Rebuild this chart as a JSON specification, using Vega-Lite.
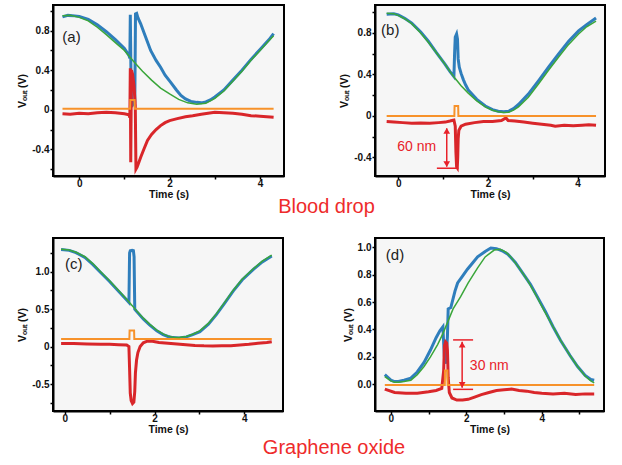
{
  "$schema": "https://vega.github.io/schema/vega-lite/v6.json",
  "background": "white",
  "padding": {"left": 16, "top": 4, "right": 5, "bottom": 5},
  "bounds": "flush",
  "columns": 2,
  "spacing": {"column": 91, "row": 62},
  "datasets": {
    "a": [
      {"t": -0.37, "v": 0.95, "s": "g"}, {"t": -0.2, "v": 0.955, "s": "g"}, {"t": 0, "v": 0.935, "s": "g"}, {"t": 0.2, "v": 0.9, "s": "g"}, {"t": 0.4, "v": 0.835, "s": "g"}, {"t": 0.6, "v": 0.76, "s": "g"}, {"t": 0.8, "v": 0.68, "s": "g"}, {"t": 1.0, "v": 0.6, "s": "g"}, {"t": 1.2, "v": 0.49, "s": "g"}, {"t": 1.4, "v": 0.39, "s": "g"}, {"t": 1.6, "v": 0.3, "s": "g"}, {"t": 1.8, "v": 0.22, "s": "g"}, {"t": 2.0, "v": 0.16, "s": "g"}, {"t": 2.2, "v": 0.105, "s": "g"}, {"t": 2.4, "v": 0.07, "s": "g"}, {"t": 2.6, "v": 0.055, "s": "g"}, {"t": 2.8, "v": 0.065, "s": "g"}, {"t": 3.0, "v": 0.115, "s": "g"}, {"t": 3.2, "v": 0.19, "s": "g"}, {"t": 3.4, "v": 0.29, "s": "g"}, {"t": 3.6, "v": 0.39, "s": "g"}, {"t": 3.8, "v": 0.5, "s": "g"}, {"t": 4.0, "v": 0.6, "s": "g"}, {"t": 4.2, "v": 0.7, "s": "g"}, {"t": 4.3, "v": 0.75, "s": "g"},
      {"t": -0.37, "v": 0.94, "s": "b"}, {"t": -0.25, "v": 0.955, "s": "b"}, {"t": -0.1, "v": 0.95, "s": "b"}, {"t": 0, "v": 0.945, "s": "b"}, {"t": 0.2, "v": 0.915, "s": "b"}, {"t": 0.4, "v": 0.86, "s": "b"}, {"t": 0.6, "v": 0.79, "s": "b"}, {"t": 0.8, "v": 0.71, "s": "b"}, {"t": 1.0, "v": 0.62, "s": "b"}, {"t": 1.1, "v": 0.55, "s": "b"}, {"t": 1.12, "v": 0.52, "s": "b"}, {"t": 1.13, "v": 0.96, "s": "b"}, {"t": 1.145, "v": 0.35, "s": "b"}, {"t": 1.16, "v": 0.03, "s": "b"}, {"t": 1.19, "v": 0.06, "s": "b"}, {"t": 1.23, "v": 0.08, "s": "b"}, {"t": 1.245, "v": 0.97, "s": "b"}, {"t": 1.27, "v": 0.975, "s": "b"}, {"t": 1.3, "v": 0.93, "s": "b"}, {"t": 1.36, "v": 0.87, "s": "b"}, {"t": 1.45, "v": 0.76, "s": "b"}, {"t": 1.58, "v": 0.6, "s": "b"}, {"t": 1.7, "v": 0.5, "s": "b"}, {"t": 1.8, "v": 0.43, "s": "b"}, {"t": 1.9, "v": 0.35, "s": "b"}, {"t": 2.02, "v": 0.28, "s": "b"}, {"t": 2.15, "v": 0.2, "s": "b"}, {"t": 2.25, "v": 0.145, "s": "b"}, {"t": 2.35, "v": 0.11, "s": "b"}, {"t": 2.47, "v": 0.085, "s": "b"}, {"t": 2.6, "v": 0.075, "s": "b"}, {"t": 2.7, "v": 0.07, "s": "b"}, {"t": 2.8, "v": 0.08, "s": "b"}, {"t": 2.9, "v": 0.1, "s": "b"}, {"t": 3.0, "v": 0.13, "s": "b"}, {"t": 3.2, "v": 0.2, "s": "b"}, {"t": 3.4, "v": 0.3, "s": "b"}, {"t": 3.6, "v": 0.4, "s": "b"}, {"t": 3.8, "v": 0.51, "s": "b"}, {"t": 4.0, "v": 0.61, "s": "b"}, {"t": 4.2, "v": 0.71, "s": "b"}, {"t": 4.3, "v": 0.77, "s": "b"},
      {"t": -0.37, "v": -0.04, "s": "r"}, {"t": -0.2, "v": -0.045, "s": "r"}, {"t": 0, "v": -0.035, "s": "r"}, {"t": 0.2, "v": -0.04, "s": "r"}, {"t": 0.4, "v": -0.03, "s": "r"}, {"t": 0.6, "v": -0.025, "s": "r"}, {"t": 0.8, "v": -0.03, "s": "r"}, {"t": 1.0, "v": -0.04, "s": "r"}, {"t": 1.1, "v": -0.05, "s": "r"}, {"t": 1.12, "v": -0.08, "s": "r"}, {"t": 1.13, "v": 0.42, "s": "r"}, {"t": 1.14, "v": -0.53, "s": "r"}, {"t": 1.155, "v": 0.4, "s": "r"}, {"t": 1.18, "v": 0.36, "s": "r"}, {"t": 1.21, "v": 0.25, "s": "r"}, {"t": 1.24, "v": 0.05, "s": "r"}, {"t": 1.255, "v": -0.6, "s": "r"}, {"t": 1.28, "v": -0.58, "s": "r"}, {"t": 1.32, "v": -0.53, "s": "r"}, {"t": 1.36, "v": -0.48, "s": "r"}, {"t": 1.43, "v": -0.4, "s": "r"}, {"t": 1.51, "v": -0.31, "s": "r"}, {"t": 1.6, "v": -0.25, "s": "r"}, {"t": 1.7, "v": -0.2, "s": "r"}, {"t": 1.8, "v": -0.16, "s": "r"}, {"t": 1.9, "v": -0.13, "s": "r"}, {"t": 2.0, "v": -0.11, "s": "r"}, {"t": 2.17, "v": -0.09, "s": "r"}, {"t": 2.35, "v": -0.07, "s": "r"}, {"t": 2.51, "v": -0.06, "s": "r"}, {"t": 2.7, "v": -0.045, "s": "r"}, {"t": 2.85, "v": -0.035, "s": "r"}, {"t": 3.0, "v": -0.025, "s": "r"}, {"t": 3.2, "v": -0.03, "s": "r"}, {"t": 3.4, "v": -0.035, "s": "r"}, {"t": 3.6, "v": -0.045, "s": "r"}, {"t": 3.8, "v": -0.06, "s": "r"}, {"t": 4.0, "v": -0.065, "s": "r"}, {"t": 4.15, "v": -0.07, "s": "r"}, {"t": 4.3, "v": -0.075, "s": "r"},
      {"t": -0.37, "v": 0.01, "s": "o"}, {"t": 1.125, "v": 0.01, "s": "o"}, {"t": 1.13, "v": 0.1, "s": "o"}, {"t": 1.225, "v": 0.1, "s": "o"}, {"t": 1.23, "v": 0.01, "s": "o"}, {"t": 4.3, "v": 0.01, "s": "o"}
    ],
    "b": [
      {"t": -0.26, "v": 0.99, "s": "g"}, {"t": -0.1, "v": 0.985, "s": "g"}, {"t": 0, "v": 0.97, "s": "g"}, {"t": 0.15, "v": 0.935, "s": "g"}, {"t": 0.3, "v": 0.89, "s": "g"}, {"t": 0.5, "v": 0.8, "s": "g"}, {"t": 0.67, "v": 0.71, "s": "g"}, {"t": 0.85, "v": 0.61, "s": "g"}, {"t": 1.04, "v": 0.5, "s": "g"}, {"t": 1.15, "v": 0.43, "s": "g"}, {"t": 1.27, "v": 0.36, "s": "g"}, {"t": 1.4, "v": 0.29, "s": "g"}, {"t": 1.56, "v": 0.22, "s": "g"}, {"t": 1.75, "v": 0.145, "s": "g"}, {"t": 1.94, "v": 0.087, "s": "g"}, {"t": 2.1, "v": 0.055, "s": "g"}, {"t": 2.23, "v": 0.04, "s": "g"}, {"t": 2.35, "v": 0.033, "s": "g"}, {"t": 2.46, "v": 0.035, "s": "g"}, {"t": 2.57, "v": 0.055, "s": "g"}, {"t": 2.68, "v": 0.087, "s": "g"}, {"t": 2.9, "v": 0.18, "s": "g"}, {"t": 3.13, "v": 0.31, "s": "g"}, {"t": 3.35, "v": 0.44, "s": "g"}, {"t": 3.58, "v": 0.57, "s": "g"}, {"t": 3.8, "v": 0.69, "s": "g"}, {"t": 4.02, "v": 0.79, "s": "g"}, {"t": 4.2, "v": 0.86, "s": "g"}, {"t": 4.41, "v": 0.915, "s": "g"},
      {"t": -0.26, "v": 0.98, "s": "b"}, {"t": -0.1, "v": 0.985, "s": "b"}, {"t": 0, "v": 0.975, "s": "b"}, {"t": 0.15, "v": 0.94, "s": "b"}, {"t": 0.3, "v": 0.895, "s": "b"}, {"t": 0.5, "v": 0.81, "s": "b"}, {"t": 0.67, "v": 0.72, "s": "b"}, {"t": 0.85, "v": 0.61, "s": "b"}, {"t": 1.04, "v": 0.5, "s": "b"}, {"t": 1.15, "v": 0.43, "s": "b"}, {"t": 1.24, "v": 0.38, "s": "b"}, {"t": 1.255, "v": 0.6, "s": "b"}, {"t": 1.27, "v": 0.76, "s": "b"}, {"t": 1.3, "v": 0.79, "s": "b"}, {"t": 1.32, "v": 0.74, "s": "b"}, {"t": 1.335, "v": 0.55, "s": "b"}, {"t": 1.36, "v": 0.47, "s": "b"}, {"t": 1.4, "v": 0.41, "s": "b"}, {"t": 1.45, "v": 0.35, "s": "b"}, {"t": 1.5, "v": 0.3, "s": "b"}, {"t": 1.56, "v": 0.25, "s": "b"}, {"t": 1.75, "v": 0.16, "s": "b"}, {"t": 1.94, "v": 0.095, "s": "b"}, {"t": 2.1, "v": 0.06, "s": "b"}, {"t": 2.23, "v": 0.045, "s": "b"}, {"t": 2.35, "v": 0.04, "s": "b"}, {"t": 2.46, "v": 0.045, "s": "b"}, {"t": 2.57, "v": 0.07, "s": "b"}, {"t": 2.68, "v": 0.11, "s": "b"}, {"t": 2.9, "v": 0.21, "s": "b"}, {"t": 3.13, "v": 0.34, "s": "b"}, {"t": 3.35, "v": 0.47, "s": "b"}, {"t": 3.58, "v": 0.6, "s": "b"}, {"t": 3.8, "v": 0.72, "s": "b"}, {"t": 4.02, "v": 0.82, "s": "b"}, {"t": 4.2, "v": 0.88, "s": "b"}, {"t": 4.41, "v": 0.945, "s": "b"},
      {"t": -0.26, "v": -0.055, "s": "r"}, {"t": -0.1, "v": -0.06, "s": "r"}, {"t": 0.1, "v": -0.065, "s": "r"}, {"t": 0.3, "v": -0.07, "s": "r"}, {"t": 0.5, "v": -0.068, "s": "r"}, {"t": 0.7, "v": -0.07, "s": "r"}, {"t": 0.9, "v": -0.065, "s": "r"}, {"t": 1.05, "v": -0.06, "s": "r"}, {"t": 1.15, "v": -0.05, "s": "r"}, {"t": 1.24, "v": -0.04, "s": "r"}, {"t": 1.27, "v": -0.1, "s": "r"}, {"t": 1.285, "v": -0.35, "s": "r"}, {"t": 1.3, "v": -0.49, "s": "r"}, {"t": 1.315, "v": -0.5, "s": "r"}, {"t": 1.325, "v": -0.4, "s": "r"}, {"t": 1.335, "v": -0.22, "s": "r"}, {"t": 1.35, "v": -0.14, "s": "r"}, {"t": 1.4, "v": -0.1, "s": "r"}, {"t": 1.5, "v": -0.08, "s": "r"}, {"t": 1.7, "v": -0.065, "s": "r"}, {"t": 1.9, "v": -0.055, "s": "r"}, {"t": 2.1, "v": -0.055, "s": "r"}, {"t": 2.3, "v": -0.045, "s": "r"}, {"t": 2.4, "v": -0.02, "s": "r"}, {"t": 2.45, "v": -0.045, "s": "r"}, {"t": 2.6, "v": -0.05, "s": "r"}, {"t": 2.8, "v": -0.06, "s": "r"}, {"t": 3.0, "v": -0.07, "s": "r"}, {"t": 3.2, "v": -0.08, "s": "r"}, {"t": 3.4, "v": -0.09, "s": "r"}, {"t": 3.5, "v": -0.1, "s": "r"}, {"t": 3.7, "v": -0.09, "s": "r"}, {"t": 3.9, "v": -0.095, "s": "r"}, {"t": 4.1, "v": -0.09, "s": "r"}, {"t": 4.25, "v": -0.085, "s": "r"}, {"t": 4.41, "v": -0.09, "s": "r"},
      {"t": -0.26, "v": 0, "s": "o"}, {"t": 1.25, "v": 0, "s": "o"}, {"t": 1.255, "v": 0.095, "s": "o"}, {"t": 1.335, "v": 0.095, "s": "o"}, {"t": 1.34, "v": 0, "s": "o"}, {"t": 4.41, "v": 0, "s": "o"}
    ],
    "c": [
      {"t": -0.08, "v": 1.3, "s": "g"}, {"t": 0.1, "v": 1.29, "s": "g"}, {"t": 0.25, "v": 1.26, "s": "g"}, {"t": 0.45, "v": 1.2, "s": "g"}, {"t": 0.63, "v": 1.105, "s": "g"}, {"t": 0.8, "v": 1.0, "s": "g"}, {"t": 1.0, "v": 0.88, "s": "g"}, {"t": 1.2, "v": 0.75, "s": "g"}, {"t": 1.37, "v": 0.64, "s": "g"}, {"t": 1.5, "v": 0.55, "s": "g"}, {"t": 1.6, "v": 0.48, "s": "g"}, {"t": 1.75, "v": 0.38, "s": "g"}, {"t": 1.89, "v": 0.3, "s": "g"}, {"t": 2.05, "v": 0.22, "s": "g"}, {"t": 2.19, "v": 0.17, "s": "g"}, {"t": 2.3, "v": 0.14, "s": "g"}, {"t": 2.41, "v": 0.125, "s": "g"}, {"t": 2.55, "v": 0.12, "s": "g"}, {"t": 2.71, "v": 0.134, "s": "g"}, {"t": 2.85, "v": 0.165, "s": "g"}, {"t": 3.01, "v": 0.21, "s": "g"}, {"t": 3.2, "v": 0.31, "s": "g"}, {"t": 3.38, "v": 0.44, "s": "g"}, {"t": 3.55, "v": 0.58, "s": "g"}, {"t": 3.75, "v": 0.75, "s": "g"}, {"t": 3.95, "v": 0.9, "s": "g"}, {"t": 4.2, "v": 1.04, "s": "g"}, {"t": 4.4, "v": 1.14, "s": "g"}, {"t": 4.61, "v": 1.22, "s": "g"},
      {"t": -0.08, "v": 1.295, "s": "b"}, {"t": 0.1, "v": 1.285, "s": "b"}, {"t": 0.25, "v": 1.255, "s": "b"}, {"t": 0.45, "v": 1.19, "s": "b"}, {"t": 0.63, "v": 1.095, "s": "b"}, {"t": 0.8, "v": 0.99, "s": "b"}, {"t": 1.0, "v": 0.87, "s": "b"}, {"t": 1.2, "v": 0.74, "s": "b"}, {"t": 1.37, "v": 0.63, "s": "b"}, {"t": 1.43, "v": 0.59, "s": "b"}, {"t": 1.445, "v": 1.25, "s": "b"}, {"t": 1.46, "v": 1.28, "s": "b"}, {"t": 1.5, "v": 1.285, "s": "b"}, {"t": 1.53, "v": 1.28, "s": "b"}, {"t": 1.545, "v": 1.2, "s": "b"}, {"t": 1.56, "v": 0.5, "s": "b"}, {"t": 1.6, "v": 0.47, "s": "b"}, {"t": 1.75, "v": 0.37, "s": "b"}, {"t": 1.89, "v": 0.29, "s": "b"}, {"t": 2.05, "v": 0.21, "s": "b"}, {"t": 2.19, "v": 0.16, "s": "b"}, {"t": 2.3, "v": 0.135, "s": "b"}, {"t": 2.41, "v": 0.12, "s": "b"}, {"t": 2.55, "v": 0.115, "s": "b"}, {"t": 2.71, "v": 0.13, "s": "b"}, {"t": 2.85, "v": 0.16, "s": "b"}, {"t": 3.01, "v": 0.2, "s": "b"}, {"t": 3.2, "v": 0.3, "s": "b"}, {"t": 3.38, "v": 0.43, "s": "b"}, {"t": 3.55, "v": 0.57, "s": "b"}, {"t": 3.75, "v": 0.74, "s": "b"}, {"t": 3.95, "v": 0.89, "s": "b"}, {"t": 4.2, "v": 1.03, "s": "b"}, {"t": 4.4, "v": 1.13, "s": "b"}, {"t": 4.61, "v": 1.21, "s": "b"},
      {"t": -0.08, "v": 0.04, "s": "r"}, {"t": 0.2, "v": 0.04, "s": "r"}, {"t": 0.5, "v": 0.035, "s": "r"}, {"t": 0.8, "v": 0.03, "s": "r"}, {"t": 1.0, "v": 0.03, "s": "r"}, {"t": 1.2, "v": 0.025, "s": "r"}, {"t": 1.38, "v": 0.02, "s": "r"}, {"t": 1.43, "v": 0.0, "s": "r"}, {"t": 1.445, "v": -0.3, "s": "r"}, {"t": 1.46, "v": -0.62, "s": "r"}, {"t": 1.48, "v": -0.72, "s": "r"}, {"t": 1.51, "v": -0.76, "s": "r"}, {"t": 1.54, "v": -0.74, "s": "r"}, {"t": 1.56, "v": -0.6, "s": "r"}, {"t": 1.575, "v": -0.35, "s": "r"}, {"t": 1.6, "v": -0.18, "s": "r"}, {"t": 1.63, "v": -0.08, "s": "r"}, {"t": 1.68, "v": 0.0, "s": "r"}, {"t": 1.75, "v": 0.05, "s": "r"}, {"t": 1.85, "v": 0.075, "s": "r"}, {"t": 1.95, "v": 0.07, "s": "r"}, {"t": 2.1, "v": 0.055, "s": "r"}, {"t": 2.3, "v": 0.045, "s": "r"}, {"t": 2.5, "v": 0.035, "s": "r"}, {"t": 2.7, "v": 0.025, "s": "r"}, {"t": 2.9, "v": 0.015, "s": "r"}, {"t": 3.1, "v": 0.01, "s": "r"}, {"t": 3.3, "v": 0.008, "s": "r"}, {"t": 3.5, "v": 0.01, "s": "r"}, {"t": 3.7, "v": 0.012, "s": "r"}, {"t": 3.9, "v": 0.02, "s": "r"}, {"t": 4.1, "v": 0.03, "s": "r"}, {"t": 4.3, "v": 0.045, "s": "r"}, {"t": 4.5, "v": 0.055, "s": "r"}, {"t": 4.61, "v": 0.065, "s": "r"},
      {"t": -0.08, "v": 0.1, "s": "o"}, {"t": 1.44, "v": 0.1, "s": "o"}, {"t": 1.445, "v": 0.215, "s": "o"}, {"t": 1.545, "v": 0.215, "s": "o"}, {"t": 1.55, "v": 0.1, "s": "o"}, {"t": 4.61, "v": 0.1, "s": "o"}
    ],
    "d": [
      {"t": -0.16, "v": 0.056, "s": "g"}, {"t": 0, "v": 0.025, "s": "g"}, {"t": 0.1, "v": 0.015, "s": "g"}, {"t": 0.2, "v": 0.015, "s": "g"}, {"t": 0.35, "v": 0.02, "s": "g"}, {"t": 0.53, "v": 0.03, "s": "g"}, {"t": 0.7, "v": 0.07, "s": "g"}, {"t": 0.88, "v": 0.13, "s": "g"}, {"t": 1.05, "v": 0.2, "s": "g"}, {"t": 1.24, "v": 0.29, "s": "g"}, {"t": 1.38, "v": 0.37, "s": "g"}, {"t": 1.5, "v": 0.45, "s": "g"}, {"t": 1.65, "v": 0.55, "s": "g"}, {"t": 1.85, "v": 0.64, "s": "g"}, {"t": 2.05, "v": 0.74, "s": "g"}, {"t": 2.3, "v": 0.85, "s": "g"}, {"t": 2.5, "v": 0.93, "s": "g"}, {"t": 2.74, "v": 0.98, "s": "g"}, {"t": 2.9, "v": 0.985, "s": "g"}, {"t": 3.05, "v": 0.965, "s": "g"}, {"t": 3.18, "v": 0.93, "s": "g"}, {"t": 3.4, "v": 0.85, "s": "g"}, {"t": 3.62, "v": 0.76, "s": "g"}, {"t": 3.85, "v": 0.65, "s": "g"}, {"t": 4.06, "v": 0.54, "s": "g"}, {"t": 4.3, "v": 0.42, "s": "g"}, {"t": 4.5, "v": 0.32, "s": "g"}, {"t": 4.75, "v": 0.21, "s": "g"}, {"t": 4.95, "v": 0.13, "s": "g"}, {"t": 5.15, "v": 0.06, "s": "g"}, {"t": 5.3, "v": 0.025, "s": "g"}, {"t": 5.39, "v": 0.01, "s": "g"},
      {"t": -0.16, "v": 0.07, "s": "b"}, {"t": 0, "v": 0.03, "s": "b"}, {"t": 0.1, "v": 0.02, "s": "b"}, {"t": 0.2, "v": 0.02, "s": "b"}, {"t": 0.35, "v": 0.03, "s": "b"}, {"t": 0.53, "v": 0.045, "s": "b"}, {"t": 0.7, "v": 0.09, "s": "b"}, {"t": 0.88, "v": 0.16, "s": "b"}, {"t": 1.05, "v": 0.25, "s": "b"}, {"t": 1.2, "v": 0.34, "s": "b"}, {"t": 1.3, "v": 0.39, "s": "b"}, {"t": 1.38, "v": 0.42, "s": "b"}, {"t": 1.4, "v": 0.3, "s": "b"}, {"t": 1.42, "v": 0.2, "s": "b"}, {"t": 1.45, "v": 0.15, "s": "b"}, {"t": 1.48, "v": 0.25, "s": "b"}, {"t": 1.5, "v": 0.35, "s": "b"}, {"t": 1.52, "v": 0.55, "s": "b"}, {"t": 1.59, "v": 0.56, "s": "b"}, {"t": 1.7, "v": 0.68, "s": "b"}, {"t": 1.77, "v": 0.74, "s": "b"}, {"t": 1.9, "v": 0.79, "s": "b"}, {"t": 2.03, "v": 0.84, "s": "b"}, {"t": 2.15, "v": 0.88, "s": "b"}, {"t": 2.3, "v": 0.93, "s": "b"}, {"t": 2.5, "v": 0.97, "s": "b"}, {"t": 2.65, "v": 0.995, "s": "b"}, {"t": 2.8, "v": 0.99, "s": "b"}, {"t": 2.95, "v": 0.975, "s": "b"}, {"t": 3.1, "v": 0.95, "s": "b"}, {"t": 3.3, "v": 0.89, "s": "b"}, {"t": 3.5, "v": 0.81, "s": "b"}, {"t": 3.7, "v": 0.73, "s": "b"}, {"t": 3.9, "v": 0.63, "s": "b"}, {"t": 4.1, "v": 0.53, "s": "b"}, {"t": 4.3, "v": 0.42, "s": "b"}, {"t": 4.5, "v": 0.32, "s": "b"}, {"t": 4.75, "v": 0.21, "s": "b"}, {"t": 4.95, "v": 0.13, "s": "b"}, {"t": 5.15, "v": 0.065, "s": "b"}, {"t": 5.3, "v": 0.035, "s": "b"}, {"t": 5.39, "v": 0.03, "s": "b"},
      {"t": -0.16, "v": -0.035, "s": "r"}, {"t": 0.1, "v": -0.06, "s": "r"}, {"t": 0.4, "v": -0.065, "s": "r"}, {"t": 0.7, "v": -0.065, "s": "r"}, {"t": 1.0, "v": -0.055, "s": "r"}, {"t": 1.2, "v": -0.045, "s": "r"}, {"t": 1.35, "v": -0.03, "s": "r"}, {"t": 1.4, "v": 0.1, "s": "r"}, {"t": 1.42, "v": 0.28, "s": "r"}, {"t": 1.45, "v": 0.31, "s": "r"}, {"t": 1.48, "v": 0.3, "s": "r"}, {"t": 1.5, "v": 0.25, "s": "r"}, {"t": 1.52, "v": 0.05, "s": "r"}, {"t": 1.55, "v": -0.06, "s": "r"}, {"t": 1.62, "v": -0.1, "s": "r"}, {"t": 1.75, "v": -0.115, "s": "r"}, {"t": 1.9, "v": -0.115, "s": "r"}, {"t": 2.05, "v": -0.11, "s": "r"}, {"t": 2.2, "v": -0.095, "s": "r"}, {"t": 2.4, "v": -0.075, "s": "r"}, {"t": 2.6, "v": -0.06, "s": "r"}, {"t": 2.8, "v": -0.045, "s": "r"}, {"t": 3.0, "v": -0.04, "s": "r"}, {"t": 3.2, "v": -0.035, "s": "r"}, {"t": 3.4, "v": -0.045, "s": "r"}, {"t": 3.6, "v": -0.05, "s": "r"}, {"t": 3.8, "v": -0.06, "s": "r"}, {"t": 4.0, "v": -0.065, "s": "r"}, {"t": 4.3, "v": -0.07, "s": "r"}, {"t": 4.6, "v": -0.065, "s": "r"}, {"t": 4.9, "v": -0.075, "s": "r"}, {"t": 5.15, "v": -0.07, "s": "r"}, {"t": 5.39, "v": -0.07, "s": "r"},
      {"t": -0.16, "v": -0.005, "s": "o"}, {"t": 1.43, "v": -0.005, "s": "o"}, {"t": 1.435, "v": 0.1, "s": "o"}, {"t": 1.5, "v": 0.1, "s": "o"}, {"t": 1.505, "v": -0.005, "s": "o"}, {"t": 5.39, "v": -0.005, "s": "o"}
    ]
  },
  "concat": [
    {
      "width": 231, "height": 171,
      "title": {"text": "Blood drop", "orient": "bottom", "anchor": "middle", "frame": "group", "dx": 158, "offset": -3, "fontSize": 20, "fontWeight": "normal", "color": "#ee2b2b", "font": "Liberation Sans"},
      "data": {"name": "a"},
      "encoding": {
        "x": {"field": "t", "type": "quantitative", "scale": {"domain": [-0.58, 4.53], "nice": false, "zero": false}, "axis": {"title": "Time (s)", "values": [0, 1, 2, 3, 4], "labelExpr": "datum.value % 2 == 0 ? format(datum.value, 'd') : ''"}},
        "y": {"field": "v", "type": "quantitative", "scale": {"domain": [-0.67, 1.06], "nice": false, "zero": false}, "axis": {"title": "Vₒᵤₜ (V)", "values": [-0.6, -0.4, -0.2, 0, 0.2, 0.4, 0.6, 0.8, 1.0], "labelExpr": "datum.value == 0.8 ? '0.8' : datum.value == 0.4 ? '0.4' : datum.value == 0 ? '0' : datum.value == -0.4 ? '-0.4' : ''"}}
      },
      "layer": [
        {"transform": [{"filter": "datum.s === 'b'"}], "mark": {"type": "line", "color": "#2f7ebc", "strokeWidth": 3}},
        {"transform": [{"filter": "datum.s === 'r'"}], "mark": {"type": "line", "color": "#d9262a", "strokeWidth": 3}},
        {"transform": [{"filter": "datum.s === 'o'"}], "mark": {"type": "line", "color": "#f7922a", "strokeWidth": 2}},
        {"transform": [{"filter": "datum.s === 'g'"}], "mark": {"type": "line", "color": "#3aa63a", "strokeWidth": 1.5}},
        {"data": {"values": [{"t": -0.17, "v": 0.735, "txt": "(a)"}]}, "mark": {"type": "text", "fontSize": 15, "font": "Liberation Sans", "color": "#222"}, "encoding": {"text": {"field": "txt"}}}
      ]
    },
    {
      "width": 230, "height": 171,
      "data": {"name": "b"},
      "encoding": {
        "x": {"field": "t", "type": "quantitative", "scale": {"domain": [-0.52, 4.61], "nice": false, "zero": false}, "axis": {"title": "Time (s)", "values": [0, 1, 2, 3, 4], "labelExpr": "datum.value % 2 == 0 ? format(datum.value, 'd') : ''"}},
        "y": {"field": "v", "type": "quantitative", "scale": {"domain": [-0.58, 1.07], "nice": false, "zero": false}, "axis": {"title": "Vₒᵤₜ (V)", "values": [-0.4, -0.2, 0, 0.2, 0.4, 0.6, 0.8, 1.0], "labelExpr": "datum.value == 0.8 ? '0.8' : datum.value == 0.4 ? '0.4' : datum.value == 0 ? '0' : datum.value == -0.4 ? '-0.4' : ''"}}
      },
      "layer": [
        {"transform": [{"filter": "datum.s === 'b'"}], "mark": {"type": "line", "color": "#2f7ebc", "strokeWidth": 3}},
        {"transform": [{"filter": "datum.s === 'r'"}], "mark": {"type": "line", "color": "#d9262a", "strokeWidth": 3}},
        {"transform": [{"filter": "datum.s === 'o'"}], "mark": {"type": "line", "color": "#f7922a", "strokeWidth": 2}},
        {"transform": [{"filter": "datum.s === 'g'"}], "mark": {"type": "line", "color": "#3aa63a", "strokeWidth": 1.5}},
        {"data": {"values": [{"t": 1.08, "v": -0.12, "v2": -0.49}]}, "mark": {"type": "rule", "color": "#e8222a", "strokeWidth": 1.5}, "encoding": {"y2": {"field": "v2"}}},
        {"data": {"values": [{"t": 0.86, "t2": 1.34, "v": -0.505}]}, "mark": {"type": "rule", "color": "#e8222a", "strokeWidth": 1.5}, "encoding": {"x2": {"field": "t2"}}},
        {"data": {"values": [{"t": 1.08, "v": -0.145}]}, "mark": {"type": "point", "shape": "triangle-up", "filled": true, "opacity": 1, "size": 45, "color": "#e8222a"}},
        {"data": {"values": [{"t": 1.08, "v": -0.465}]}, "mark": {"type": "point", "shape": "triangle-down", "filled": true, "opacity": 1, "size": 45, "color": "#e8222a"}},
        {"data": {"values": [{"t": 0.41, "v": -0.3, "txt": "60 nm"}]}, "mark": {"type": "text", "fontSize": 14, "font": "Liberation Sans", "color": "#e8222a"}, "encoding": {"text": {"field": "txt"}}},
        {"data": {"values": [{"t": -0.18, "v": 0.826, "txt": "(b)"}]}, "mark": {"type": "text", "fontSize": 15, "font": "Liberation Sans", "color": "#222"}, "encoding": {"text": {"field": "txt"}}}
      ]
    },
    {
      "width": 230, "height": 173,
      "title": {"text": "Graphene oxide", "orient": "bottom", "anchor": "middle", "frame": "group", "dx": 166, "offset": 3, "fontSize": 20, "fontWeight": "normal", "color": "#ee2b2b", "font": "Liberation Sans"},
      "data": {"name": "c"},
      "encoding": {
        "x": {"field": "t", "type": "quantitative", "scale": {"domain": [-0.26, 4.86], "nice": false, "zero": false}, "axis": {"title": "Time (s)", "values": [0, 1, 2, 3, 4], "labelExpr": "datum.value % 2 == 0 ? format(datum.value, 'd') : ''"}},
        "y": {"field": "v", "type": "quantitative", "scale": {"domain": [-0.86, 1.45], "nice": false, "zero": false}, "axis": {"title": "Vₒᵤₜ (V)", "values": [-0.75, -0.5, -0.25, 0, 0.25, 0.5, 0.75, 1, 1.25], "labelExpr": "datum.value == 1 ? '1.0' : datum.value == 0.5 ? '0.5' : datum.value == 0 ? '0' : datum.value == -0.5 ? '-0.5' : ''"}}
      },
      "layer": [
        {"transform": [{"filter": "datum.s === 'b'"}], "mark": {"type": "line", "color": "#2f7ebc", "strokeWidth": 3}},
        {"transform": [{"filter": "datum.s === 'r'"}], "mark": {"type": "line", "color": "#d9262a", "strokeWidth": 3}},
        {"transform": [{"filter": "datum.s === 'o'"}], "mark": {"type": "line", "color": "#f7922a", "strokeWidth": 2}},
        {"transform": [{"filter": "datum.s === 'g'"}], "mark": {"type": "line", "color": "#3aa63a", "strokeWidth": 1.5}},
        {"data": {"values": [{"t": 0.2, "v": 1.105, "txt": "(c)"}]}, "mark": {"type": "text", "fontSize": 15, "font": "Liberation Sans", "color": "#222"}, "encoding": {"text": {"field": "txt"}}}
      ]
    },
    {
      "width": 229, "height": 173,
      "data": {"name": "d"},
      "encoding": {
        "x": {"field": "t", "type": "quantitative", "scale": {"domain": [-0.42, 5.65], "nice": false, "zero": false}, "axis": {"title": "Time (s)", "values": [0, 1, 2, 3, 4, 5], "labelExpr": "datum.value % 2 == 0 ? format(datum.value, 'd') : ''"}},
        "y": {"field": "v", "type": "quantitative", "scale": {"domain": [-0.195, 1.068], "nice": false, "zero": false}, "axis": {"title": "Vₒᵤₜ (V)", "values": [0, 0.2, 0.4, 0.6, 0.8, 1.0], "labelExpr": "format(datum.value, '.1f')"}}
      },
      "layer": [
        {"transform": [{"filter": "datum.s === 'b'"}], "mark": {"type": "line", "color": "#2f7ebc", "strokeWidth": 3}},
        {"transform": [{"filter": "datum.s === 'r'"}], "mark": {"type": "line", "color": "#d9262a", "strokeWidth": 3}},
        {"transform": [{"filter": "datum.s === 'o'"}], "mark": {"type": "line", "color": "#f7922a", "strokeWidth": 2}},
        {"transform": [{"filter": "datum.s === 'g'"}], "mark": {"type": "line", "color": "#3aa63a", "strokeWidth": 1.5}},
        {"data": {"values": [{"t": 1.89, "v": 0.31, "v2": -0.025}]}, "mark": {"type": "rule", "color": "#e8222a", "strokeWidth": 1.5}, "encoding": {"y2": {"field": "v2"}}},
        {"data": {"values": [{"t": 1.65, "t2": 2.18, "v": 0.324}, {"t": 1.65, "t2": 2.18, "v": -0.037}]}, "mark": {"type": "rule", "color": "#e8222a", "strokeWidth": 1.5}, "encoding": {"x2": {"field": "t2"}}},
        {"data": {"values": [{"t": 1.89, "v": 0.29}]}, "mark": {"type": "point", "shape": "triangle-up", "filled": true, "opacity": 1, "size": 45, "color": "#e8222a"}},
        {"data": {"values": [{"t": 1.89, "v": -0.004}]}, "mark": {"type": "point", "shape": "triangle-down", "filled": true, "opacity": 1, "size": 45, "color": "#e8222a"}},
        {"data": {"values": [{"t": 2.61, "v": 0.134, "txt": "30 nm"}]}, "mark": {"type": "text", "fontSize": 14, "font": "Liberation Sans", "color": "#e8222a"}, "encoding": {"text": {"field": "txt"}}},
        {"data": {"values": [{"t": 0.11, "v": 0.944, "txt": "(d)"}]}, "mark": {"type": "text", "fontSize": 15, "font": "Liberation Sans", "color": "#222"}, "encoding": {"text": {"field": "txt"}}}
      ]
    }
  ],
  "config": {
    "view": {"stroke": "#000", "strokeWidth": 2, "fill": "#f6f6f6"},
    "axis": {"grid": false, "domainColor": "#000", "domainWidth": 2, "tickColor": "#000", "tickSize": 3, "tickWidth": 1.5, "labelFont": "Liberation Sans", "labelFontWeight": "bold", "labelFontSize": 10, "labelColor": "#111", "labelPadding": 1, "titleFont": "Liberation Sans", "titleFontWeight": "bold", "titleFontSize": 10.5, "titleColor": "#111"},
    "axisY": {"titlePadding": 4},
    "axisX": {"titlePadding": 1, "labelPadding": -1}
  }
}
